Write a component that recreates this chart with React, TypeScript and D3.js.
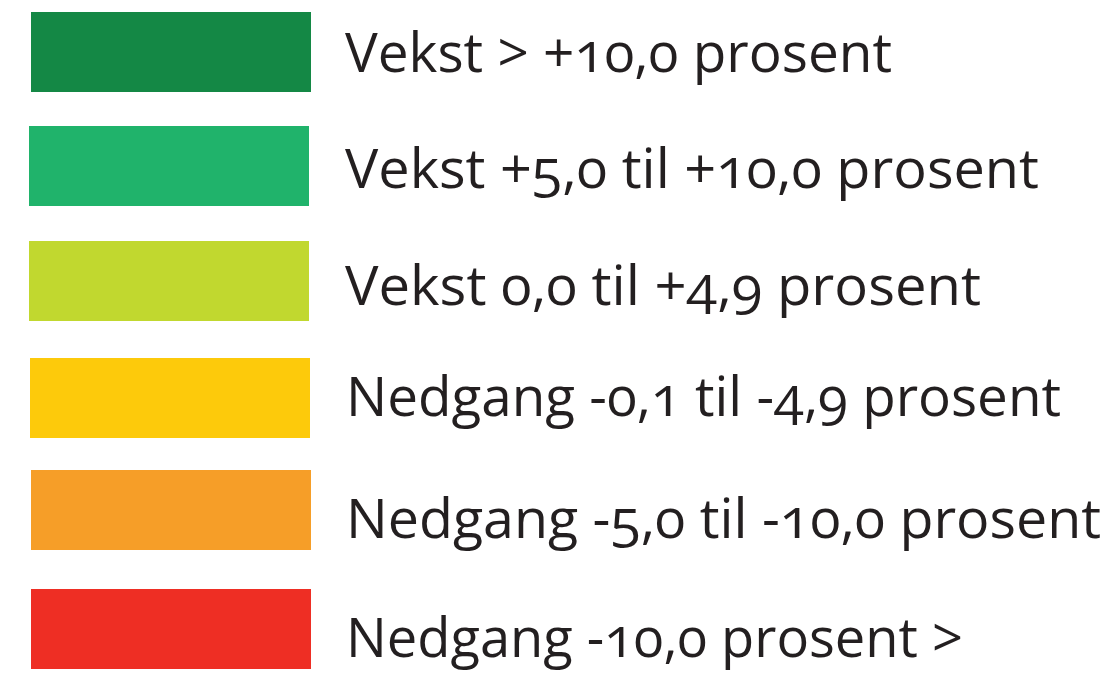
import React from "react";
import * as d3 from "d3";

const labels = [
  "Vekst > +10,0 prosent",
  "Vekst +5,0 til +10,0 prosent",
  "Vekst 0,0 til +4,9 prosent",
  "Nedgang -0,1 til -4,9 prosent",
  "Nedgang -5,0 til -10,0 prosent",
  "Nedgang -10,0 prosent >",
];
const colors = ["#148845", "#20b36b", "#c1d82f", "#fdca0b", "#f69e28", "#ee2e24"];
const rectTops = [12, 126, 241, 358, 470, 589];
const rectLefts = [31, 29, 29, 30, 31, 31];
const baselines = [72, 188, 305, 416, 538, 657];
const textRights = [892, 1039, 981, 1061, 1101, 963];
const textLefts = [345, 345, 345, 346, 346, 346];

export default function App() {
  const W = 1117, H = 678;
  return (
    <svg width={W} height={H} style={{ position: "absolute", left: 0, top: 0, background: "#fff" }}>
      {labels.map((l, i) => (
        <g key={i}>
          <rect x={rectLefts[i]} y={rectTops[i]} width={280} height={80} fill={colors[i]} />
          <text
            x={textLefts[i]}
            y={baselines[i]}
            fontFamily="'Open Sans', sans-serif"
            fontSize={55}
            fill="#231f20"
            style={{ fontVariantNumeric: "oldstyle-nums" }}
            textLength={textRights[i] - textLefts[i]}
            lengthAdjust="spacingAndGlyphs"
          >
            {l}
          </text>
        </g>
      ))}
    </svg>
  );
}
